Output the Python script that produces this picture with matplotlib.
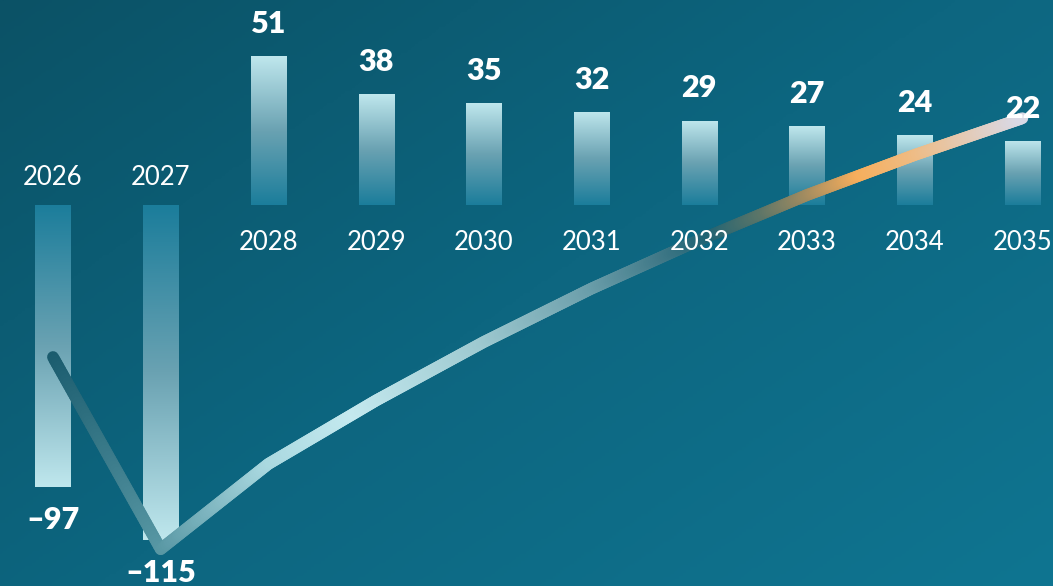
import numpy as np
import matplotlib
matplotlib.use("Agg")
import matplotlib.pyplot as plt
from matplotlib.colors import LinearSegmentedColormap, to_rgb
from matplotlib.collections import LineCollection

# ---------------- data ----------------
years = ["2026", "2027", "2028", "2029", "2030", "2031", "2032", "2033", "2034", "2035"]
values = [-97, -115, 51, 38, 35, 32, 29, 27, 24, 22]
cumulative = np.cumsum(values)  # line series (running total)

# ---------------- style ----------------
W, H = 1053, 586
fig = plt.figure(figsize=(W / 100, H / 100), dpi=100)

# background gradient
bg = fig.add_axes([0, 0, 1, 1])
bg.set_axis_off()
gx, gy = np.meshgrid(np.linspace(0, 1, 300), np.linspace(0, 1, 200))
t = np.clip(0.55 * gx + 0.45 * gy, 0, 1)
bg_cmap = LinearSegmentedColormap.from_list("bg", ["#0b5266", "#0d6680", "#0f7591"])
bg.imshow(t, cmap=bg_cmap, aspect="auto", extent=[0, 1, 0, 1], origin="upper")
bg.set_xlim(0, 1)
bg.set_ylim(0, 1)

ax = fig.add_axes([0, 0, 1, 1])
ax.set_axis_off()
ax.patch.set_alpha(0)
n = len(years)
x = np.arange(n)
ax.set_xlim(-0.492, 9.285)
ax.set_ylim(-130.9, 70.4)

bar_w = 0.325
light = "#bfe7ed"
dark = "#1b7d9b"
bar_cmap = LinearSegmentedColormap.from_list("bar", [dark, "#6aa2b2", light])
bars = ax.bar(x, values, width=bar_w, color="none", edgecolor="none", zorder=2)
grad = np.linspace(0, 1, 256).reshape(-1, 1)
for xi, v, b in zip(x, values, bars):
    if v >= 0:
        img = grad[::-1]  # top light, bottom dark
    else:
        img = grad  # top dark (baseline), bottom light
    im = ax.imshow(img, cmap=bar_cmap, aspect="auto",
                   extent=[xi - bar_w / 2, xi + bar_w / 2, min(0, v), max(0, v)],
                   zorder=2, interpolation="bicubic")
    im.set_clip_path(b)

# line on secondary scale with gradient colour
ax2 = fig.add_axes([0, 0, 1, 1], sharex=ax)
ax2.set_axis_off()
ax2.patch.set_alpha(0)
ax2.set_ylim(-234.1, 116.8)

stops = [
    (0.0, "#1a5c6e"),
    (1.0, "#5796a3"),
    (2.0, "#a9d8df"),
    (2.8, "#c4e9ef"),
    (4.0, "#9ec9d0"),
    (5.0, "#6c9fab"),
    (5.7, "#3e7786"),
    (6.1, "#1f6374"),
    (6.6, "#5b7568"),
    (7.0, "#9e8a60"),
    (7.5, "#f6ae5c"),
    (8.0, "#efbb82"),
    (9.0, "#d9d9e6"),
]
sx = np.array([s[0] for s in stops])
sc = np.array([to_rgb(s[1]) for s in stops])

fine = 60
xs, ys = [], []
for i in range(n - 1):
    tt = np.linspace(0, 1, fine, endpoint=False)
    xs.append(x[i] + (x[i + 1] - x[i]) * tt)
    ys.append(cumulative[i] + (cumulative[i + 1] - cumulative[i]) * tt)
xs.append([x[-1]])
ys.append([cumulative[-1]])
xs = np.concatenate(xs)
ys = np.concatenate(ys)
pts = np.column_stack([xs, ys]).reshape(-1, 1, 2)
segs = np.concatenate([pts[:-1], pts[1:]], axis=1)
mid = (xs[:-1] + xs[1:]) / 2
cols = np.column_stack([np.interp(mid, sx, sc[:, k]) for k in range(3)])
lc = LineCollection(segs, colors=cols, linewidths=8.5, capstyle="round",
                    joinstyle="round", zorder=4)
ax2.add_collection(lc)

# labels (drawn on top, positioned in bar data coordinates)
tr = ax.transData
for xi, v, yr in zip(x, values, years):
    if v >= 0:
        ax2.text(xi, v + 11, f"{v}", ha="center", va="center", color="white",
                 fontsize=22, fontweight="heavy", family="Lato", zorder=6, transform=tr)
        ax2.text(xi, -12.8, yr, ha="center", va="center", color="white",
                 fontsize=18.5, fontweight="normal", family="Lato", zorder=6, transform=tr)
    else:
        ax2.text(xi, v - 11.3, f"\u2013{abs(v)}", ha="center", va="center", color="white",
                 fontsize=22, fontweight="heavy", family="Lato", zorder=6, transform=tr)
        ax2.text(xi, 9.3, yr, ha="center", va="center", color="white",
                 fontsize=18.5, fontweight="normal", family="Lato", zorder=6, transform=tr)

fig.savefig("out.png", dpi=100)
